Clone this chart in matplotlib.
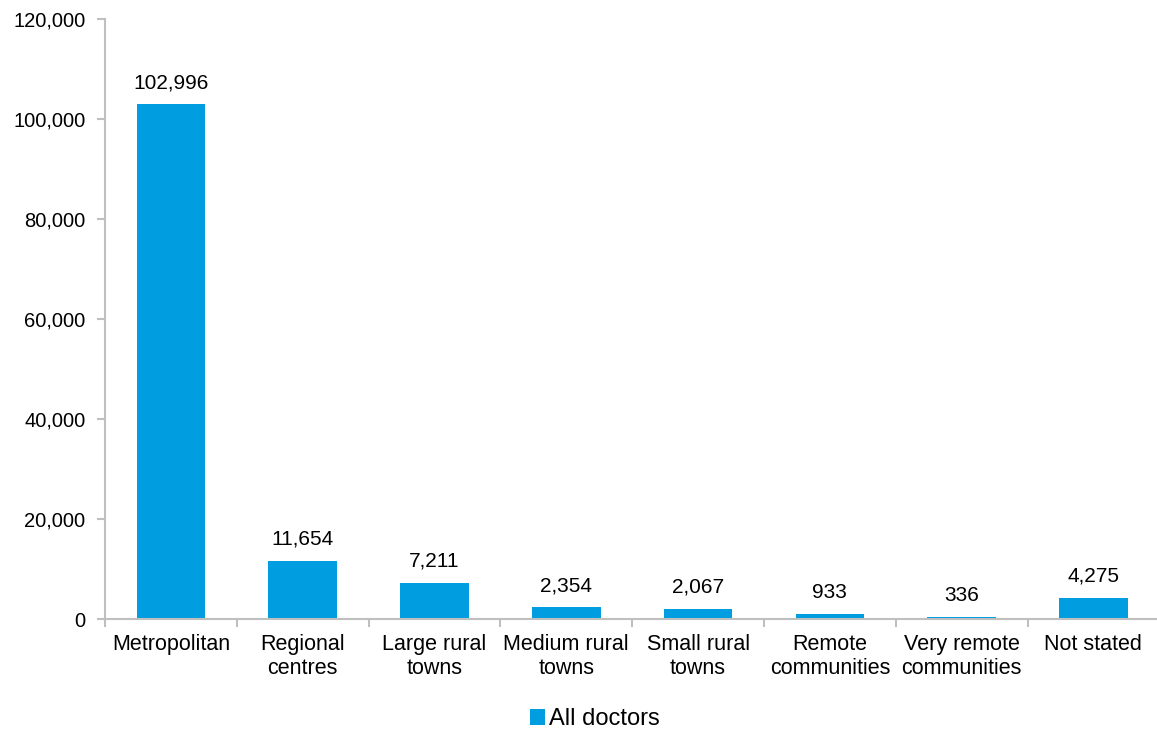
import numpy as np
import matplotlib.pyplot as plt
from matplotlib.ticker import FuncFormatter

categories = ['Metropolitan', 'Regional\ncentres', 'Large rural\ntowns', 'Medium rural\ntowns',
              'Small rural\ntowns', 'Remote\ncommunities', 'Very remote\ncommunities', 'Not stated']
all_doctors = [102996, 11654, 7211, 2354, 2067, 933, 336, 4275]

plt.rcParams['font.family'] = ['Liberation Sans', 'DejaVu Sans']
bar_color = '#009ee0'
grey = '#bfbfbf'

fig = plt.figure(figsize=(11.57, 7.31), dpi=100)
ax = fig.add_axes([0.0908, 0.1532, 0.9112, 0.8208])

x = np.arange(len(categories))
bars = ax.bar(x, all_doctors, width=0.52, color=bar_color, label='All doctors')

# value labels
for xi, v in zip(x, all_doctors):
    ax.text(xi, v + 2400, '{:,}'.format(v), ha='center', va='bottom', fontsize=15)

ax.set_xlim(-0.5, len(categories) - 0.5)
ax.set_ylim(0, 120000)
ax.set_yticks(range(0, 120001, 20000))
ax.yaxis.set_major_formatter(FuncFormatter(lambda v, p: '{:,.0f}'.format(v)))

# category labels at centres, tick marks at boundaries
ax.set_xticks(np.arange(-0.5, len(categories), 1.0))
ax.set_xticklabels([])
ax.set_xticks(x, minor=True)
ax.set_xticklabels(categories, minor=True, linespacing=1.2)
ax.tick_params(axis='x', which='major', length=6, color=grey, width=1.5)
ax.tick_params(axis='x', which='minor', length=0, pad=11, labelsize=15.5)
ax.tick_params(axis='y', length=6, color=grey, width=1.5, labelsize=14.5, pad=8)

for s in ['top', 'right']:
    ax.spines[s].set_visible(False)
for s in ['left', 'bottom']:
    ax.spines[s].set_color(grey)
    ax.spines[s].set_linewidth(1.5)

fig.legend(handles=[bars], labels=['All doctors'], loc='center', bbox_to_anchor=(0.514, 0.016),
           frameon=False, fontsize=17, handlelength=0.65, handleheight=0.65, handletextpad=0.15)

fig.savefig('out.png', dpi=100)
